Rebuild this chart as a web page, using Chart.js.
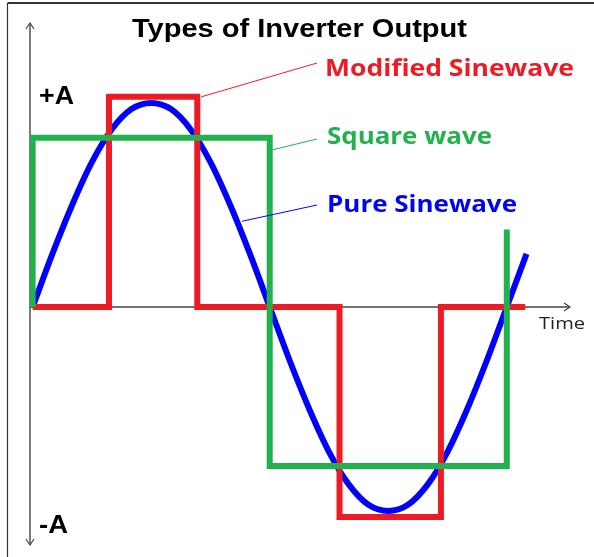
<!DOCTYPE html>
<html>
<head>
<meta charset="utf-8">
<title>Types of Inverter Output</title>
<script src="https://cdn.jsdelivr.net/npm/chart.js@4.4.1/dist/chart.umd.min.js"></script>
<style>
  html, body { margin: 0; padding: 0; background: #fff; }
  #wrap { width: 594px; height: 557px; }
</style>
</head>
<body>
<div id="wrap"><canvas id="inverterChart" width="594" height="557"></canvas></div>
<script>
// time in degrees of one cycle, amplitude in units of A
const sineDeg = [0, 15, 30, 45, 60, 75, 90, 105, 120, 135, 150, 165, 180, 195, 210, 225, 240, 255, 270, 285, 300, 315, 330, 345, 360, 375];
const sineAmp = [0, 0.26, 0.5, 0.71, 0.87, 0.97, 1.0, 0.97, 0.87, 0.71, 0.5, 0.26, 0, -0.26, -0.5, -0.71, -0.87, -0.97, -1.0, -0.97, -0.87, -0.71, -0.5, -0.26, 0, 0.26];

const squareDeg = [0, 0, 180, 180, 360, 360];
const squareAmp = [0, 0.83, 0.83, -0.78, -0.78, 0.38];

const modDeg = [0, 58, 58, 125, 125, 233, 233, 310, 310, 374];
const modAmp = [0, 0, 1.03, 1.03, 0, 0, -1.03, -1.03, 0, 0];

const seriesNames = ["Modified Sinewave", "Square wave", "Pure Sinewave"];
const axisLabels = ["+A", "-A", "Time"];
const chartTitle = "Types of Inverter Output";

const RED = "#ed1c24";
const GREEN = "#22b14c";
const BLUE = "#0000ff";

function zip(xs, ys) {
  return xs.map((x, i) => ({ x: x, y: ys[i] }));
}

// draw text squeezed/stretched to a given width
function fitText(ctx, text, x, y, width, font, color) {
  ctx.save();
  ctx.font = font;
  ctx.fillStyle = color;
  ctx.textBaseline = "alphabetic";
  ctx.textAlign = "left";
  const w = ctx.measureText(text).width;
  ctx.translate(x, y);
  ctx.scale(width / w, 1);
  ctx.fillText(text, 0, 0);
  ctx.restore();
}

function line(ctx, x1, y1, x2, y2) {
  ctx.beginPath();
  ctx.moveTo(x1, y1);
  ctx.lineTo(x2, y2);
  ctx.stroke();
}

const decor = {
  id: "inverterDecor",
  beforeDatasetsDraw(chart) {
    const ctx = chart.ctx;
    const area = chart.chartArea;
    const xs = chart.scales.x;
    const ys = chart.scales.y;
    const y0 = ys.getPixelForValue(0);
    const ax = area.left;

    ctx.save();
    // picture frame
    ctx.strokeStyle = "#333";
    ctx.lineWidth = 2;
    line(ctx, 7.5, 3, 594, 3);
    ctx.lineWidth = 1.2;
    line(ctx, 7.5, 3, 7.5, 557);

    // axes
    ctx.strokeStyle = "#444";
    ctx.lineWidth = 1.4;
    line(ctx, ax, area.top, ax, area.bottom);
    line(ctx, ax, y0, area.right, y0);
    // arrow heads
    ctx.lineWidth = 1.2;
    ctx.beginPath();
    ctx.moveTo(ax - 4, area.top + 6); ctx.lineTo(ax, area.top); ctx.lineTo(ax + 4, area.top + 6);
    ctx.moveTo(ax - 4, area.bottom - 6); ctx.lineTo(ax, area.bottom); ctx.lineTo(ax + 4, area.bottom - 6);
    ctx.moveTo(area.right - 6, y0 - 4); ctx.lineTo(area.right, y0); ctx.lineTo(area.right - 6, y0 + 4);
    ctx.stroke();
    ctx.restore();
  },
  afterDatasetsDraw(chart) {
    const ctx = chart.ctx;
    const xs = chart.scales.x;
    const ys = chart.scales.y;

    // title and axis labels
    fitText(ctx, chartTitle, 132, 37, 335, "bold 25px 'Liberation Sans', Arial, sans-serif", "#000");
    fitText(ctx, axisLabels[0], 39, 104, 35, "bold 26px 'Liberation Sans', Arial, sans-serif", "#000");
    fitText(ctx, axisLabels[1], 39, 533, 29, "bold 26px 'Liberation Sans', Arial, sans-serif", "#000");
    fitText(ctx, axisLabels[2], 539, 329, 46, "16px 'Open Sans', sans-serif", "#222");

    // series labels with leader lines to their curves
    const labelFont = "bold 24px 'Open Sans', sans-serif";
    const labels = [
      { text: seriesNames[0], color: RED, x: 325, y: 76, w: 249, from: [128, 1.03], to: [317, 63] },
      { text: seriesNames[1], color: GREEN, x: 327, y: 144, w: 165, from: [182, 0.77], to: [317, 139] },
      { text: seriesNames[2], color: BLUE, x: 327, y: 212, w: 190, from: [159, 0.42], to: [317, 205] }
    ];
    ctx.save();
    ctx.lineWidth = 1;
    labels.forEach(l => {
      ctx.strokeStyle = l.color;
      line(ctx, xs.getPixelForValue(l.from[0]), ys.getPixelForValue(l.from[1]), l.to[0], l.to[1]);
      fitText(ctx, l.text, l.x, l.y, l.w, labelFont, l.color);
    });
    ctx.restore();
  }
};

new Chart(document.getElementById("inverterChart").getContext("2d"), {
  type: "scatter",
  data: {
    datasets: [
      {
        label: seriesNames[1],
        data: zip(squareDeg, squareAmp),
        showLine: true,
        borderColor: GREEN,
        borderWidth: 6,
        borderJoinStyle: "miter",
        pointRadius: 0,
        tension: 0,
        order: 1
      },
      {
        label: seriesNames[0],
        data: zip(modDeg, modAmp),
        showLine: true,
        borderColor: RED,
        borderWidth: 6,
        borderJoinStyle: "miter",
        pointRadius: 0,
        tension: 0,
        order: 2
      },
      {
        label: seriesNames[2],
        data: zip(sineDeg, sineAmp),
        showLine: true,
        borderColor: BLUE,
        borderWidth: 6,
        cubicInterpolationMode: "monotone",
        pointRadius: 0,
        order: 3
      }
    ]
  },
  options: {
    responsive: false,
    devicePixelRatio: 1,
    animation: false,
    layout: { padding: { left: 30, right: 24, top: 23, bottom: 12 } },
    plugins: {
      legend: { display: false },
      tooltip: { enabled: false },
      title: { display: false }
    },
    scales: {
      x: { type: "linear", min: -2, max: 408, display: false },
      y: { type: "linear", min: -1.167, max: 1.392, display: false }
    }
  },
  plugins: [decor]
});
</script>
</body>
</html>
